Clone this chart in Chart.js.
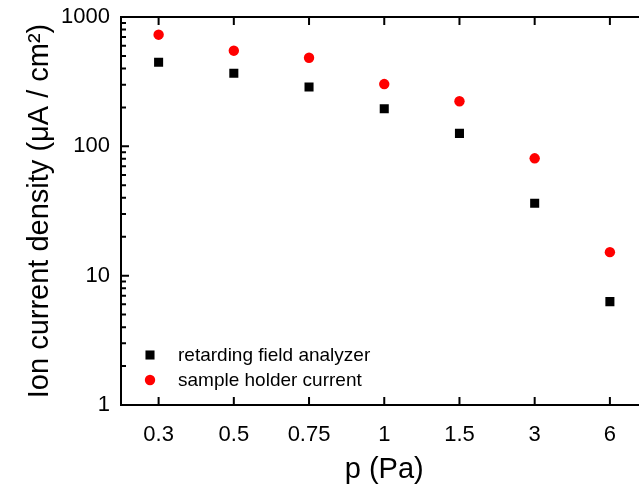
<!DOCTYPE html>
<html>
<head>
<meta charset="utf-8">
<script src="https://cdn.jsdelivr.net/npm/chart.js@4/dist/chart.umd.min.js"></script>
<style>
  html, body { margin: 0; padding: 0; background: #fff; overflow: hidden; }
  #wrap { width: 662px; height: 489px; }
</style>
</head>
<body>
<div id="wrap"><canvas id="chart" width="662" height="489"></canvas></div>
<script>
// pressure steps (Pa), shown as evenly spaced categories
const pressures = ["0.3", "0.5", "0.75", "1", "1.5", "3", "6"];
// ion current density, µA/cm²
const analyzerValues = [447, 367, 288, 195, 126, 36.3, 6.3];
const holderValues = [730, 549, 484, 303, 223, 80.8, 15.2];
const yTickLabels = [1, 10, 100, 1000];

const FONT = "'Liberation Sans', Arial, sans-serif";

// frame, inward ticks and the in-plot legend
const framePlugin = {
  id: "frame",
  afterDraw(chart) {
    const ctx = chart.ctx;
    const a = chart.chartArea;
    const xs = chart.scales.x;
    const ys = chart.scales.y;
    ctx.save();
    ctx.strokeStyle = "#000";
    ctx.lineWidth = 2;
    ctx.strokeRect(a.left, a.top, a.right - a.left, a.bottom - a.top);

    ctx.beginPath();
    pressures.forEach((p, i) => {
      const x = xs.getPixelForTick(i);
      ctx.moveTo(x, a.bottom); ctx.lineTo(x, a.bottom - 8);
      ctx.moveTo(x, a.top); ctx.lineTo(x, a.top + 8);
    });
    yTickLabels.forEach((v, k) => {
      const y = ys.getPixelForValue(v);
      ctx.moveTo(a.left, y); ctx.lineTo(a.left + 8, y);
      if (k < yTickLabels.length - 1) {
        for (let m = 2; m <= 9; m++) {
          const ym = ys.getPixelForValue(v * m);
          ctx.moveTo(a.left, ym); ctx.lineTo(a.left + 5, ym);
        }
      }
    });
    ctx.stroke();

    // legend
    ctx.font = "19px " + FONT;
    ctx.textBaseline = "middle";
    ctx.textAlign = "left";
    chart.data.datasets.forEach((ds, i) => {
      const cx = a.left + 29;
      const cy = a.bottom - 50 + i * 25;
      ctx.fillStyle = ds.backgroundColor;
      if (ds.pointStyle === "rect") {
        const s = ds.pointRadius * Math.SQRT1_2;
        ctx.fillRect(cx - s, cy - s, 2 * s, 2 * s);
      } else {
        ctx.beginPath();
        ctx.arc(cx, cy, ds.pointRadius, 0, Math.PI * 2);
        ctx.fill();
      }
      ctx.fillStyle = "#000";
      ctx.fillText(ds.label, a.left + 57, cy + 1);
    });
    ctx.restore();
  }
};

new Chart(document.getElementById("chart"), {
  type: "line",
  data: {
    labels: pressures,
    datasets: [
      {
        label: "retarding field analyzer",
        data: analyzerValues,
        showLine: false,
        pointStyle: "rect",
        pointRadius: 6.4,
        pointBorderWidth: 0,
        borderColor: "#000",
        backgroundColor: "#000"
      },
      {
        label: "sample holder current",
        data: holderValues,
        showLine: false,
        pointStyle: "circle",
        pointRadius: 5.2,
        pointBorderWidth: 0,
        borderColor: "#ff0000",
        backgroundColor: "#ff0000"
      }
    ]
  },
  options: {
    responsive: false,
    animation: false,
    devicePixelRatio: 1,
    layout: { padding: { top: 17, right: 14.5, left: 0, bottom: 0 } },
    plugins: { legend: { display: false }, tooltip: { enabled: false } },
    scales: {
      x: {
        type: "category",
        offset: true,
        grid: { display: false, drawTicks: false },
        border: { display: false },
        ticks: { color: "#000", font: { family: FONT, size: 22 }, padding: 17, maxRotation: 0, autoSkip: false },
        title: { display: true, text: "p (Pa)", color: "#000", font: { family: FONT, size: 29 }, padding: { top: 0, bottom: 1.5 } },
        afterFit(scale) { scale.height = 84; scale.paddingLeft = 0; scale.paddingRight = 0; }
      },
      y: {
        type: "logarithmic",
        min: 1,
        max: 1000,
        grid: { display: false, drawTicks: false },
        border: { display: false },
        ticks: {
          color: "#000",
          font: { family: FONT, size: 22 },
          padding: 11,
          autoSkip: false,
          callback: v => yTickLabels.includes(v) ? String(v) : ""
        },
        title: { display: true, text: "Ion current density (μA / cm²)", color: "#000", font: { family: FONT, size: 29 }, padding: { top: 23, bottom: 0 } },
        afterFit(scale) { scale.width = 121; scale.paddingTop = 0; scale.paddingBottom = 0; }
      }
    }
  },
  plugins: [framePlugin]
});
</script>
</body>
</html>
